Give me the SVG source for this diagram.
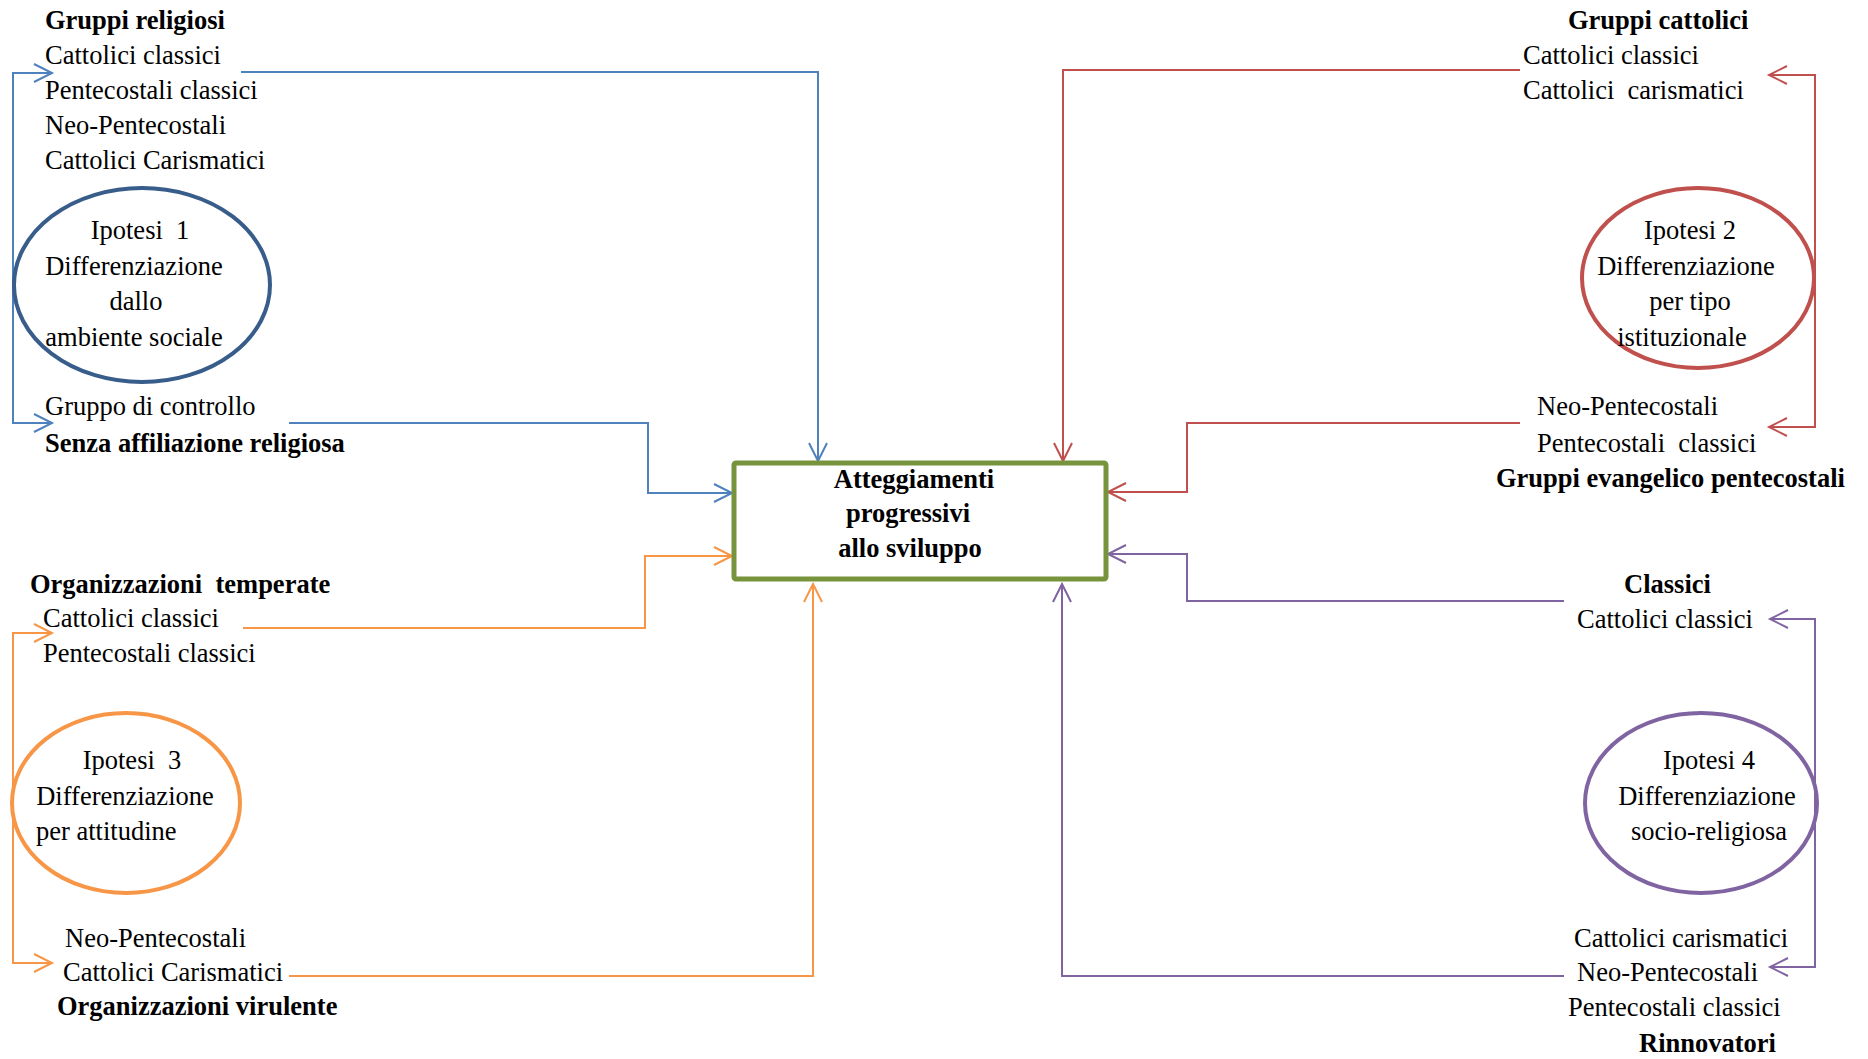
<svg xmlns="http://www.w3.org/2000/svg" width="1868" height="1059" viewBox="0 0 1868 1059">
<style>
text{font-family:"Liberation Serif","Times New Roman",serif;font-size:26.5px;fill:#000}
.b{font-weight:bold}
.m{text-anchor:middle}
.c{fill:none;stroke-width:2}
.blue{stroke:#4F81BD}
.red{stroke:#C0504D}
.orange{stroke:#F79646}
.purple{stroke:#8064A2}
.ell{fill:none;stroke-width:4}
</style>
<defs>
<marker id="ab" markerUnits="userSpaceOnUse" markerWidth="22" markerHeight="22" refX="19" refY="10" orient="auto-start-reverse" overflow="visible"><path d="M1,1 L19,10 L1,19" fill="none" stroke="#4F81BD" stroke-width="2"/></marker>
<marker id="ar" markerUnits="userSpaceOnUse" markerWidth="22" markerHeight="22" refX="19" refY="10" orient="auto-start-reverse" overflow="visible"><path d="M1,1 L19,10 L1,19" fill="none" stroke="#C0504D" stroke-width="2"/></marker>
<marker id="ao" markerUnits="userSpaceOnUse" markerWidth="22" markerHeight="22" refX="19" refY="10" orient="auto-start-reverse" overflow="visible"><path d="M1,1 L19,10 L1,19" fill="none" stroke="#F79646" stroke-width="2"/></marker>
<marker id="ap" markerUnits="userSpaceOnUse" markerWidth="22" markerHeight="22" refX="19" refY="10" orient="auto-start-reverse" overflow="visible"><path d="M1,1 L19,10 L1,19" fill="none" stroke="#8064A2" stroke-width="2"/></marker>
</defs>
<rect width="1868" height="1059" fill="#fff"/>

<g id="connectors">
<path class="c blue" d="M241,72 H818 V461" marker-end="url(#ab)"/>
<path class="c blue" d="M289,423 H648 V493 H732" marker-end="url(#ab)"/>
<path class="c blue" d="M52,73 H13 V423 H52" marker-start="url(#ab)" marker-end="url(#ab)"/>
<path class="c red" d="M1520,70 H1063 V461" marker-end="url(#ar)"/>
<path class="c red" d="M1520,423 H1187 V492 H1108" marker-end="url(#ar)"/>
<path class="c red" d="M1769,75 H1815 V427 H1769" marker-start="url(#ar)" marker-end="url(#ar)"/>
<path class="c orange" d="M243,628 H645 V556 H732" marker-end="url(#ao)"/>
<path class="c orange" d="M289,976 H813 V584" marker-end="url(#ao)"/>
<path class="c orange" d="M52,633 H13 V963 H52" marker-start="url(#ao)" marker-end="url(#ao)"/>
<path class="c purple" d="M1564,601 H1187 V554 H1108" marker-end="url(#ap)"/>
<path class="c purple" d="M1564,976 H1062 V584" marker-end="url(#ap)"/>
<path class="c purple" d="M1770,619 H1815 V967 H1770" marker-start="url(#ap)" marker-end="url(#ap)"/>
</g>

<g id="n-center">
<rect x="734" y="463" width="372" height="116" rx="2" fill="#fff" stroke="#77933C" stroke-width="5"/>
<text class="b m" x="914" y="488">Atteggiamenti</text>
<text class="b m" x="908" y="522">progressivi</text>
<text class="b m" x="910" y="557">allo sviluppo</text>
</g>

<g id="n-religiosi">
<text class="b" x="45" y="29">Gruppi religiosi</text>
<text x="45" y="64">Cattolici classici</text>
<text x="45" y="99">Pentecostali classici</text>
<text x="45" y="134">Neo-Pentecostali</text>
<text x="45" y="169">Cattolici Carismatici</text>
</g>

<g id="n-ipotesi1">
<ellipse class="ell" cx="142" cy="285" rx="128" ry="97" stroke="#385D8A"/>
<text class="m" x="140" y="239" xml:space="preserve">Ipotesi  1</text>
<text class="m" x="134" y="275">Differenziazione</text>
<text class="m" x="136" y="310">dallo</text>
<text class="m" x="134" y="346">ambiente sociale</text>
</g>

<g id="n-controllo">
<text x="45" y="415">Gruppo di controllo</text>
<text class="b" x="45" y="452">Senza affiliazione religiosa</text>
</g>

<g id="n-cattolici">
<text class="b" x="1568" y="29">Gruppi cattolici</text>
<text x="1523" y="64">Cattolici classici</text>
<text x="1523" y="99" xml:space="preserve">Cattolici  carismatici</text>
</g>

<g id="n-ipotesi2">
<ellipse class="ell" cx="1698" cy="278" rx="116" ry="90" stroke="#C0504D"/>
<text class="m" x="1690" y="239">Ipotesi 2</text>
<text class="m" x="1686" y="275">Differenziazione</text>
<text class="m" x="1690" y="310">per tipo</text>
<text class="m" x="1682" y="346">istituzionale</text>
</g>

<g id="n-evangelici">
<text x="1537" y="415">Neo-Pentecostali</text>
<text x="1537" y="452" xml:space="preserve">Pentecostali  classici</text>
<text class="b" x="1496" y="487">Gruppi evangelico pentecostali</text>
</g>

<g id="n-temperate">
<text class="b" x="30" y="593" xml:space="preserve">Organizzazioni  temperate</text>
<text x="43" y="627">Cattolici classici</text>
<text x="43" y="662">Pentecostali classici</text>
</g>

<g id="n-ipotesi3">
<ellipse class="ell" cx="126" cy="803" rx="114" ry="90" stroke="#F79646"/>
<text class="m" x="132" y="769" xml:space="preserve">Ipotesi  3</text>
<text class="m" x="125" y="805">Differenziazione</text>
<text x="36" y="840">per attitudine</text>
</g>

<g id="n-virulente">
<text x="65" y="947">Neo-Pentecostali</text>
<text x="63" y="981">Cattolici Carismatici</text>
<text class="b" x="57" y="1015">Organizzazioni virulente</text>
</g>

<g id="n-classici">
<text class="b" x="1624" y="593">Classici</text>
<text x="1577" y="628">Cattolici classici</text>
</g>

<g id="n-ipotesi4">
<ellipse class="ell" cx="1701" cy="803" rx="116" ry="90" stroke="#8064A2"/>
<text class="m" x="1709" y="769">Ipotesi 4</text>
<text class="m" x="1707" y="805">Differenziazione</text>
<text class="m" x="1709" y="840">socio-religiosa</text>
</g>

<g id="n-rinnovatori">
<text x="1574" y="947">Cattolici carismatici</text>
<text x="1577" y="981">Neo-Pentecostali</text>
<text x="1568" y="1016">Pentecostali classici</text>
<text class="b" x="1639" y="1052">Rinnovatori</text>
</g>
</svg>
